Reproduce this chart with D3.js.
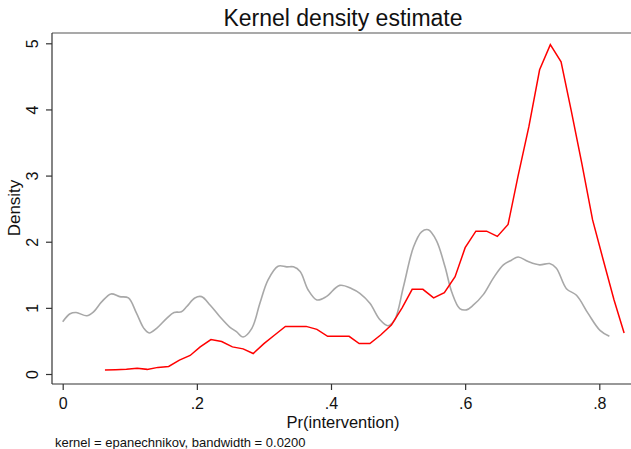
<!DOCTYPE html>
<html>
<head>
<meta charset="utf-8">
<script src="https://cdn.jsdelivr.net/npm/d3@7"></script>
<style>
  body { margin: 0; background: #fff; }
  text { font-family: "Liberation Sans", Arial, sans-serif; fill: #111; }
</style>
</head>
<body>
<div id="chart"></div>
<script>
// kernel density, evaluated at 50 points (red group)
const redX = [0.063, 0.079, 0.095, 0.111, 0.126, 0.142, 0.158, 0.174, 0.190, 0.205,
              0.221, 0.237, 0.253, 0.269, 0.284, 0.300, 0.316, 0.332, 0.348, 0.363,
              0.379, 0.395, 0.411, 0.427, 0.442, 0.458, 0.474, 0.490, 0.506, 0.521,
              0.537, 0.553, 0.569, 0.585, 0.600, 0.616, 0.632, 0.648, 0.664, 0.679,
              0.695, 0.711, 0.727, 0.743, 0.758, 0.774, 0.790, 0.806, 0.822, 0.837];
const redY = [0.06, 0.065, 0.07, 0.085, 0.07, 0.10, 0.115, 0.21, 0.28, 0.41,
              0.52, 0.49, 0.41, 0.38, 0.31, 0.46, 0.59, 0.72, 0.72, 0.72,
              0.675, 0.57, 0.57, 0.57, 0.46, 0.46, 0.59, 0.74, 1.0, 1.28,
              1.28, 1.15, 1.23, 1.47, 1.91, 2.16, 2.16, 2.08, 2.26, 3.0,
              3.74, 4.60, 4.98, 4.72, 3.99, 3.18, 2.33, 1.72, 1.12, 0.62];

// gray group
const grayX = [0.000, 0.011, 0.020, 0.036, 0.046, 0.058, 0.072, 0.085, 0.098, 0.110,
               0.121, 0.129, 0.140, 0.155, 0.166, 0.177, 0.185, 0.197, 0.207, 0.220,
               0.234, 0.249, 0.259, 0.269, 0.282, 0.294, 0.306, 0.321, 0.334, 0.344,
               0.354, 0.366, 0.379, 0.393, 0.413, 0.431, 0.443, 0.458, 0.473, 0.485,
               0.495, 0.508, 0.523, 0.535, 0.545, 0.557, 0.570, 0.580, 0.592, 0.602,
               0.612, 0.627, 0.642, 0.657, 0.669, 0.679, 0.694, 0.711, 0.726, 0.736,
               0.751, 0.766, 0.783, 0.801, 0.815];
const grayY = [0.79, 0.91, 0.93, 0.88, 0.94, 1.09, 1.21, 1.17, 1.15, 0.92,
               0.69, 0.62, 0.69, 0.84, 0.93, 0.94, 1.02, 1.15, 1.17, 1.04,
               0.87, 0.71, 0.64, 0.56, 0.69, 1.07, 1.42, 1.63, 1.62, 1.62,
               1.55, 1.27, 1.12, 1.17, 1.34, 1.29, 1.22, 1.07, 0.82, 0.73,
               0.82, 1.32, 1.92, 2.15, 2.18, 2.02, 1.62, 1.24, 0.99, 0.97,
               1.04, 1.20, 1.45, 1.65, 1.72, 1.77, 1.70, 1.65, 1.67, 1.60,
               1.29, 1.19, 0.92, 0.66, 0.57];

const xTicks = [0, 0.2, 0.4, 0.6, 0.8];
const xTickLabels = ["0", ".2", ".4", ".6", ".8"];
const yTicks = [0, 1, 2, 3, 4, 5];

const width = 631;
const height = 449;
const plot = {left: 52, top: 33, right: 631, bottom: 384};

const svg = d3.select("#chart")
    .append("svg")
    .attr("width", width)
    .attr("height", height);

const x = d3.scaleLinear().domain([0, 0.8]).range([62.7, 599.3]);
const y = d3.scaleLinear().domain([0, 5]).range([374, 43.3]);

// top frame line
svg.append("line")
    .attr("x1", plot.left).attr("x2", plot.right)
    .attr("y1", plot.top).attr("y2", plot.top)
    .style("stroke", "#555").style("stroke-width", 1.2);

const line = d3.line()
    .x((d) => x(d[0]))
    .y((d) => y(d[1]));

svg.append("path")
    .datum(grayX.map((v, i) => [v, grayY[i]]))
    .attr("d", line.curve(d3.curveCatmullRom.alpha(0.5)))
    .style("fill", "none")
    .style("stroke", "#a8a8a8")
    .style("stroke-width", 1.6);

svg.append("path")
    .datum(redX.map((v, i) => [v, redY[i]]))
    .attr("d", d3.line().x((d) => x(d[0])).y((d) => y(d[1])))
    .style("fill", "none")
    .style("stroke", "#ff0000")
    .style("stroke-width", 1.5);

// x axis
const xAxis = svg.append("g")
    .attr("transform", `translate(0, ${plot.bottom})`)
    .call(d3.axisBottom(x).tickValues(xTicks)
        .tickFormat((d, i) => xTickLabels[i]).tickSize(6).tickPadding(8));
xAxis.select(".domain").attr("d", `M${plot.left},0H${plot.right}`);
xAxis.selectAll("path, line").style("stroke", "#333").style("stroke-width", 1.2);
xAxis.selectAll("text")
    .style("font-size", "16px")
    .style("font-family", "Liberation Sans, Arial, sans-serif")
    .style("fill", "#111");

// y axis
const yAxis = svg.append("g")
    .attr("transform", `translate(${plot.left}, 0)`)
    .call(d3.axisLeft(y).tickValues(yTicks).tickFormat(d3.format("d")).tickSize(6));
yAxis.select(".domain").attr("d", `M0,${plot.top}V${plot.bottom}`);
yAxis.selectAll("path, line").style("stroke", "#333").style("stroke-width", 1.2);
yAxis.selectAll("text")
    .attr("x", null).attr("dy", null)
    .attr("transform", "translate(-14, 0) rotate(-90)")
    .style("text-anchor", "middle")
    .style("font-size", "16px")
    .style("font-family", "Liberation Sans, Arial, sans-serif")
    .style("fill", "#111");

// titles
svg.append("text")
    .attr("x", 343).attr("y", 26)
    .attr("text-anchor", "middle")
    .style("font-size", "23px")
    .text("Kernel density estimate");

svg.append("text")
    .attr("x", 343).attr("y", 428)
    .attr("text-anchor", "middle")
    .style("font-size", "16.5px")
    .text("Pr(intervention)");

svg.append("text")
    .attr("transform", "translate(20, 208) rotate(-90)")
    .attr("text-anchor", "middle")
    .style("font-size", "17px")
    .text("Density");

svg.append("text")
    .attr("x", 55).attr("y", 447)
    .style("font-size", "13px")
    .text("kernel = epanechnikov, bandwidth = 0.0200");
</script>
</body>
</html>
